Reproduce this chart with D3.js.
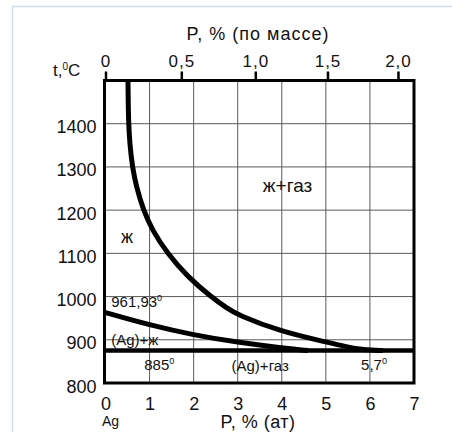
<!DOCTYPE html>
<meta charset="utf-8">
<style>
body { margin: 0; background: #fff; }
text { font-family: "Liberation Sans", Arial, sans-serif; fill: #111; }
</style>
<body>
<script src="https://d3js.org/d3.v7.min.js"></script>
<script>

// axis values
var atTicks = [0, 1, 2, 3, 4, 5, 6, 7];
var massTicks = [0, 0.5, 1.0, 1.5, 2.0];
var massLabels = ["0", "0,5", "1,0", "1,5", "2,0"];
var tempTicks = [800, 900, 1000, 1100, 1200, 1300, 1400];
var gridAt = [1, 2, 3, 4, 5, 6];
var gridTemp = [900, 1000, 1100, 1200, 1300, 1400];

// curves: [P at.%, t °C]
var liquidusAt = [0.51, 0.52, 0.55, 0.61, 0.70, 0.86, 1.06, 1.40, 1.86, 2.39, 2.76, 2.99, 3.98, 4.96, 5.41, 5.87, 6.3];
var liquidusT  = [1500, 1408, 1354, 1300, 1254, 1200, 1154, 1100, 1046, 1000, 973, 958, 919, 896, 885, 876, 875];
var solidusAt  = [0, 1, 2, 3, 4, 4.6];
var solidusT   = [963, 934, 911, 894, 881, 875];
var eutecticT = 875;

// atomic masses for the top (mass %) axis
var mP = 30.97, mAg = 107.87;
function massToAt(w) {
  var a = w / mP, b = (100 - w) / mAg;
  return a / (a + b) * 100;
}

var W = 452, H = 432;
var svg = d3.select("body").append("svg")
    .attr("width", W)
    .attr("height", H);

// light outer frame
svg.append("rect")
    .attr("x", 12.5).attr("y", 6.5)
    .attr("width", 460).attr("height", 440)
    .attr("fill", "none")
    .attr("stroke", "#d2dce7")
    .attr("stroke-width", 1.5);

var x = d3.scaleLinear().domain([0, 7]).range([105.5, 414]);
var y = d3.scaleLinear().domain([800, 1500]).range([383, 80.5]);

// grid
svg.selectAll("vgrid").data(gridAt).enter().append("line")
    .attr("x1", function(d){ return x(d) }).attr("x2", function(d){ return x(d) })
    .attr("y1", y(1500)).attr("y2", y(800))
    .attr("stroke", "#5a5a5a").attr("stroke-width", 1);
svg.selectAll("hgrid").data(gridTemp).enter().append("line")
    .attr("y1", function(d){ return y(d) }).attr("y2", function(d){ return y(d) })
    .attr("x1", x(0)).attr("x2", x(7))
    .attr("stroke", "#5a5a5a").attr("stroke-width", 1);

// axes
var axBottom = svg.append("g")
    .attr("transform", "translate(0," + y(800) + ")")
    .call(d3.axisBottom(x).tickValues(atTicks).tickFormat(d3.format("d")).tickSize(0).tickPadding(14));

var axLeft = svg.append("g")
    .attr("transform", "translate(" + x(0) + ",0)")
    .call(d3.axisLeft(y).tickValues(tempTicks).tickFormat(d3.format("d")).tickSize(0).tickPadding(9));
axLeft.selectAll("text").attr("dy", "0.5em");

var axTop = svg.append("g")
    .attr("transform", "translate(0," + y(1500) + ")")
    .call(d3.axisTop(x)
      .tickValues(massTicks.map(massToAt))
      .tickFormat(function(d, i){ return massLabels[i] })
      .tickSize(9).tickPadding(5));
axTop.selectAll("line").attr("stroke", "#000").attr("stroke-width", 2.5);

[axBottom, axLeft, axTop].forEach(function(g){
  g.select(".domain").remove();
  g.attr("font-family", null).attr("font-size", null);
  g.selectAll("text").style("fill", "#111").style("font-size", "18px");
});
axTop.selectAll("text").style("font-size", "17px").style("letter-spacing", "1px");

// curves (basis smooths the hand-read points)
var line = d3.line()
    .x(function(d){ return x(d[0]) })
    .y(function(d){ return y(d[1]) })
    .curve(d3.curveBasis);

svg.append("path")
    .attr("d", line(liquidusAt.map(function(a, i){ return [a, liquidusT[i]] })))
    .attr("fill", "none").attr("stroke", "#000").attr("stroke-width", 5);
svg.append("path")
    .attr("d", line(solidusAt.map(function(a, i){ return [a, solidusT[i]] })))
    .attr("fill", "none").attr("stroke", "#000").attr("stroke-width", 5);
svg.append("line")
    .attr("x1", x(0)).attr("x2", x(7))
    .attr("y1", y(eutecticT)).attr("y2", y(eutecticT))
    .attr("stroke", "#000").attr("stroke-width", 4.5);

// plot frame
svg.append("rect")
    .attr("x", x(0) - 1).attr("y", y(1500))
    .attr("width", x(7) - x(0) + 1).attr("height", y(800) - y(1500))
    .attr("fill", "none").attr("stroke", "#000").attr("stroke-width", 3);

// axis titles
svg.append("text")
    .attr("x", 258).attr("y", 40)
    .attr("text-anchor", "middle")
    .style("font-size", "18px").style("letter-spacing", "1px")
    .text("P, % (по массе)");
svg.append("text")
    .attr("x", 258).attr("y", 428)
    .attr("text-anchor", "middle")
    .style("font-size", "18px").style("letter-spacing", "0.5px")
    .text("P, % (ат)");
svg.append("text")
    .attr("x", 102).attr("y", 426)
    .style("font-size", "14px")
    .text("Ag");

var tl = svg.append("text").attr("x", 53).attr("y", 76).style("font-size", "17px");
tl.append("tspan").text("t,");
tl.append("tspan").attr("dy", -6).style("font-size", "10px").text("0");
tl.append("tspan").attr("dy", 6).text("C");

// region labels
function label(at, t, txt, sup, size) {
  var el = svg.append("text")
      .attr("x", x(at)).attr("y", y(t))
      .style("font-size", size + "px");
  el.append("tspan").text(txt);
  if (sup) el.append("tspan").attr("dy", -6).style("font-size", "9px").text(sup);
}
label(3.57, 1243, "ж+газ", null, 19);
label(0.35, 1125, "ж", null, 18);
label(0.13, 976, "961,93", "0", 15);
label(0.13, 889, "(Ag)+ж", null, 15);
label(0.88, 829, "885", "0", 15);
label(2.86, 828, "(Ag)+газ", null, 15);
label(5.8, 829, "5,7", "0", 15);

</script>
</body>
